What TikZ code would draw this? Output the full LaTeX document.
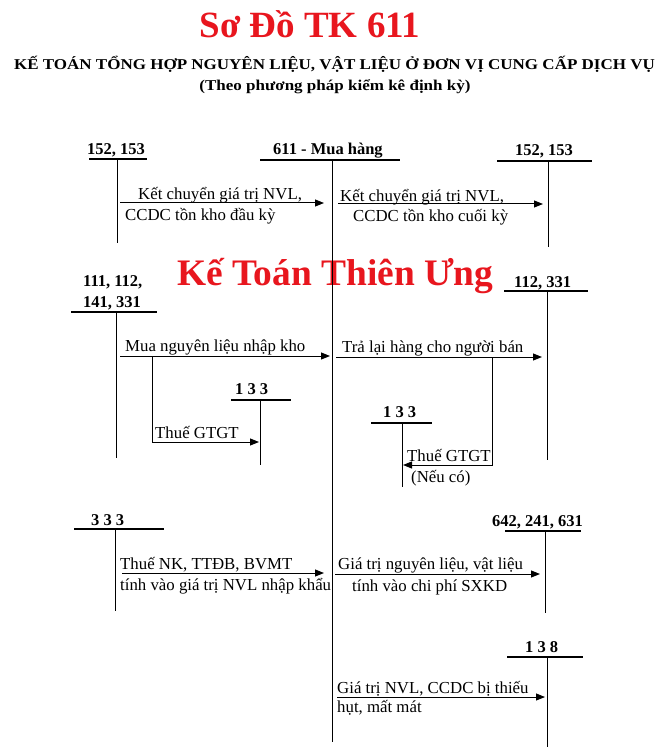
\documentclass[tikz,border=0pt]{standalone}
\usepackage{fontspec}
\setmainfont{Liberation Serif}
\usetikzlibrary{arrows.meta}
\definecolor{titlered}{RGB}{232,22,30}
\begin{document}
\begin{tikzpicture}[x=1pt,y=-1pt,
 txt/.style={anchor=base west,inner sep=0pt,font=\fontsize{16.8}{18}\selectfont},
 acct/.style={anchor=base west,inner sep=0pt,font=\fontsize{16.5}{18}\selectfont\bfseries},
 subt/.style={anchor=base,inner sep=0pt,xscale=1.134,font=\fontsize{15}{17}\selectfont\bfseries},
 tline/.style={line width=1.3pt},
 vline/.style={line width=1pt},
 arr/.style={line width=1pt,-{Triangle[length=9pt,width=7pt]}},
 redtitle/.style={inner sep=0pt,text=titlered,font=\fontsize{37}{40}\selectfont\bfseries}
]
\useasboundingbox (0,0) rectangle (667,751);
\fill[white] (0,0) rectangle (667,751);

% titles
\node[redtitle,anchor=base] (title) at (310,38) {Sơ Đồ TK 611};
\node[subt] (sub) at (334.5,69.5) {KẾ TOÁN TỔNG HỢP NGUYÊN LIỆU, VẬT LIỆU Ở ĐƠN VỊ CUNG CẤP DỊCH VỤ};
\node[subt] (paren) at (335,91) {(Theo phương pháp kiểm kê định kỳ)};
\node[redtitle,anchor=base west,font=\fontsize{37.4}{40}\selectfont\bfseries] (wm) at (177,285) {Kế Toán Thiên Ưng};

% ===== account 611 =====
\node[acct] (l611) at (273,155) {611 - Mua hàng};
\coordinate (t611a) at (260,160); \coordinate (t611b) at (400,160);
\coordinate (v611a) at (332,160); \coordinate (v611b) at (332,742);
\draw[tline] (t611a) -- (t611b);
\draw[vline] (v611a) -- (v611b);

% ===== 152,153 left =====
\node[acct] (l152a) at (87,155) {152, 153};
\coordinate (t152a1) at (89,159); \coordinate (t152a2) at (147,159);
\coordinate (v152a1) at (117,159); \coordinate (v152a2) at (117,243);
\draw[tline] (t152a1) -- (t152a2);
\draw[vline] (v152a1) -- (v152a2);
\coordinate (k1s) at (120,203); \coordinate (k1e) at (324,203);
\draw[arr] (k1s) -- (k1e);
\node[txt] (k1t1) at (138,200) {Kết chuyển giá trị NVL,};
\node[txt] (k1t2) at (125,220) {CCDC tồn kho đầu kỳ};

% ===== 152,153 right =====
\node[acct] (l152b) at (515,156) {152, 153};
\coordinate (t152b1) at (497,161); \coordinate (t152b2) at (592,161);
\coordinate (v152b1) at (548,161); \coordinate (v152b2) at (548,247);
\draw[tline] (t152b1) -- (t152b2);
\draw[vline] (v152b1) -- (v152b2);
\coordinate (k2s) at (338,204); \coordinate (k2e) at (543,204);
\draw[arr] (k2s) -- (k2e);
\node[txt] (k2t1) at (340,201) {Kết chuyển giá trị NVL,};
\node[txt] (k2t2) at (353,222) {CCDC tồn kho cuối kỳ};

% ===== 111,112,141,331 =====
\node[acct] (l111a) at (83,286) {111, 112,};
\node[acct] (l111b) at (83,307) {141, 331};
\coordinate (t111a) at (71,312); \coordinate (t111b) at (157,312);
\coordinate (v111a) at (116,312); \coordinate (v111b) at (116,458);
\draw[tline] (t111a) -- (t111b);
\draw[vline] (v111a) -- (v111b);
\coordinate (ms) at (120,356); \coordinate (me) at (330,356);
\draw[arr] (ms) -- (me);
\node[txt] (mt) at (125,351) {Mua nguyên liệu nhập kho};
\coordinate (b1s) at (152,356); \coordinate (b1e) at (259,442);
\draw[arr] (b1s) |- (b1e);
\node[txt] (b1t) at (155,438) {Thuế GTGT};

% 133 left
\node[acct] (l133a) at (235,394) {1 3 3};
\coordinate (t133a1) at (231,400); \coordinate (t133a2) at (291,400);
\coordinate (v133a1) at (260,400); \coordinate (v133a2) at (260,465);
\draw[tline] (t133a1) -- (t133a2);
\draw[vline] (v133a1) -- (v133a2);

% ===== 112,331 =====
\node[acct] (l112) at (514,287) {112, 331};
\coordinate (t112a) at (504,291); \coordinate (t112b) at (588,291);
\coordinate (v112a) at (547,291); \coordinate (v112b) at (547,460);
\draw[tline] (t112a) -- (t112b);
\draw[vline] (v112a) -- (v112b);
\coordinate (rs) at (336,357); \coordinate (re) at (542,357);
\draw[arr] (rs) -- (re);
\node[txt] (rt) at (342,352) {Trả lại hàng cho người bán};
\coordinate (b2s) at (492,357); \coordinate (b2e) at (403,465);
\draw[arr] (b2s) |- (b2e);
\node[txt] (b2t1) at (407,461) {Thuế GTGT};
\node[txt] (b2t2) at (411,482) {(Nếu có)};

% 133 right
\node[acct] (l133b) at (383,417) {1 3 3};
\coordinate (t133b1) at (371,423); \coordinate (t133b2) at (432,423);
\coordinate (v133b1) at (402,423); \coordinate (v133b2) at (402,487);
\draw[tline] (t133b1) -- (t133b2);
\draw[vline] (v133b1) -- (v133b2);

% ===== 333 =====
\node[acct] (l333) at (91,525) {3 3 3};
\coordinate (t333a) at (74,529); \coordinate (t333b) at (164,529);
\coordinate (v333a) at (115,529); \coordinate (v333b) at (115,611);
\draw[tline] (t333a) -- (t333b);
\draw[vline] (v333a) -- (v333b);
\coordinate (ns) at (122,573); \coordinate (ne) at (324,573);
\draw[arr] (ns) -- (ne);
\node[txt] (nt1) at (120,569) {Thuế NK, TTĐB, BVMT};
\node[txt] (nt2) at (120,590) {tính vào giá trị NVL nhập khẩu};

% ===== 642,241,631 =====
\node[acct] (l642) at (492,526) {642, 241, 631};
\coordinate (t642a) at (505,531); \coordinate (t642b) at (581,531);
\coordinate (v642a) at (545,531); \coordinate (v642b) at (545,613);
\draw[tline] (t642a) -- (t642b);
\draw[vline] (v642a) -- (v642b);
\coordinate (gs) at (335,574); \coordinate (ge) at (540,574);
\draw[arr] (gs) -- (ge);
\node[txt] (gt1) at (338,569) {Giá trị nguyên liệu, vật liệu};
\node[txt] (gt2) at (352,591) {tính vào chi phí SXKD};

% ===== 138 =====
\node[acct] (l138) at (525,652) {1 3 8};
\coordinate (t138a) at (507,657); \coordinate (t138b) at (583,657);
\coordinate (v138a) at (547,657); \coordinate (v138b) at (547,747);
\draw[tline] (t138a) -- (t138b);
\draw[vline] (v138a) -- (v138b);
\coordinate (hs) at (337,697); \coordinate (he) at (545,697);
\draw[arr] (hs) -- (he);
\node[txt] (ht1) at (337,693) {Giá trị NVL, CCDC bị thiếu};
\node[txt] (ht2) at (337,712) {hụt, mất mát};
\end{tikzpicture}
\end{document}
